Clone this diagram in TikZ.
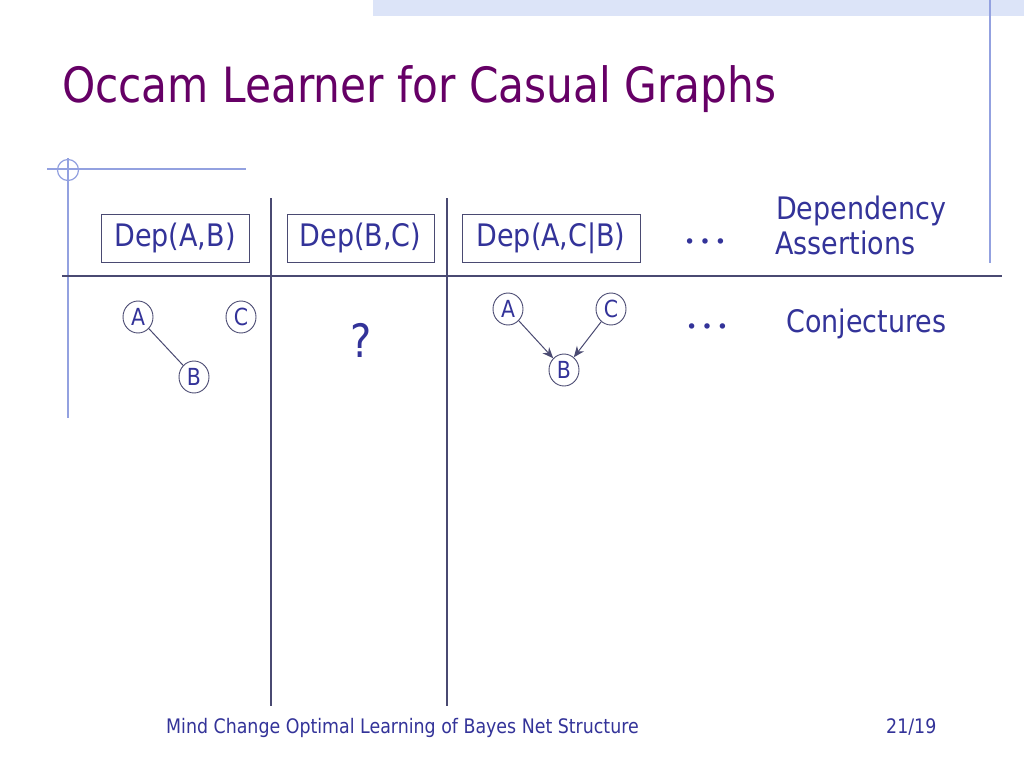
\documentclass[tikz,border=0pt]{standalone}
\usepackage{fontspec}
\setmainfont[FakeStretch=0.87]{DejaVu Sans}
\newfontfamily\dotsfont{Liberation Serif}
\usetikzlibrary{shapes.geometric,arrows.meta}
\definecolor{navy}{HTML}{333399}
\definecolor{titlepurple}{HTML}{660066}
\definecolor{rule}{HTML}{4A4A72}
\definecolor{lightline}{HTML}{93A1E0}
\definecolor{band}{HTML}{DCE4F8}
\tikzset{
  depbox/.style={draw=rule, line width=1pt, minimum height=48pt, inner sep=0pt, text=navy, font=\fontsize{31}{31}\selectfont},
  gnode/.style={ellipse, draw=rule, line width=0.9pt, minimum width=30pt, minimum height=32pt, inner sep=0pt, text=navy, font=\fontsize{23.5}{23.5}\selectfont},
  label/.style={inner sep=0pt, anchor=base west, text=navy, font=\fontsize{31}{31}\selectfont},
  dotlabel/.style={inner sep=0pt, text=navy, font=\dotsfont\fontsize{46}{46}\selectfont},
  foot/.style={inner sep=0pt, anchor=base west, text=navy, font=\fontsize{20}{20}\selectfont},
  tableline/.style={draw=rule, line width=1.15pt},
  deco/.style={draw=lightline, line width=1.2pt},
  edge/.style={draw=rule, line width=1pt},
  arr/.style={draw=rule, line width=1pt, -{Stealth[length=11pt,width=9pt]}}
}
\begin{document}
\begin{tikzpicture}[x=1pt,y=-1pt]
\useasboundingbox (0,0) rectangle (1024,768);
\fill[white] (0,0) rectangle (1024,768);
% top band and decorations
\fill[band] (373,0) rectangle (1024,16);
\coordinate (rt) at (990,0);
\coordinate (rb) at (990,263);
\draw[deco] (rt) -- (rb);
\coordinate (hl) at (47,169);
\coordinate (hr) at (246,169);
\coordinate (vt) at (68,158);
\coordinate (vb) at (68,418);
\draw[deco] (hl) -- (hr);
\draw[deco] (vt) -- (vb);
\node[deco, circle, minimum size=21pt, inner sep=0pt] (ring) at (68,170) {};
% title
\node[inner sep=0pt, anchor=base west, text=titlepurple, font=\fontsize{48.6}{48.6}\selectfont] (title) at (62,102) {Occam Learner for Casual Graphs};
% table lines
\coordinate (h1) at (62,276);
\coordinate (h2) at (1002,276);
\coordinate (v1t) at (271,198);
\coordinate (v1b) at (271,706);
\coordinate (v2t) at (447,198);
\coordinate (v2b) at (447,706);
\draw[tableline] (h1) -- (h2);
\draw[tableline] (v1t) -- (v1b);
\draw[tableline] (v2t) -- (v2b);
% dependency boxes
\node[depbox, minimum width=148pt] (dab) at (175,238) {Dep(A,B)};
\node[depbox, minimum width=147pt] (dbc) at (360.5,238) {Dep(B,C)};
\node[depbox, minimum width=178pt] (dacb) at (551,238) {Dep(A,C|B)};
\node[dotlabel] (dots1) at (705,241) {…};
\node[label] (dep1) at (776,219) {Dependency};
\node[label] (dep2) at (775,254) {Assertions};
% conjectures
\node[dotlabel] (dots2) at (707,326) {…};
\node[label] (conj) at (786,332) {Conjectures};
% first graph
\node[gnode] (a1) at (138,317) {A};
\node[gnode] (c1) at (241,317) {C};
\node[gnode] (b1) at (194,377) {B};
\draw[edge] (a1) -- (b1);
% question mark
\node[inner sep=0pt, text=navy, font=\fontsize{46}{46}\selectfont] (q) at (361,340) {?};
% third graph
\node[gnode] (a3) at (508,309) {A};
\node[gnode] (c3) at (611,309) {C};
\node[gnode] (b3) at (564,370) {B};
\draw[arr] (a3) -- (b3);
\draw[arr] (c3) -- (b3);
% footer
\node[foot] (ft) at (166,733) {Mind Change Optimal Learning of Bayes Net Structure};
\node[foot] (pg) at (886,733) {21/19};
\end{tikzpicture}
\end{document}
